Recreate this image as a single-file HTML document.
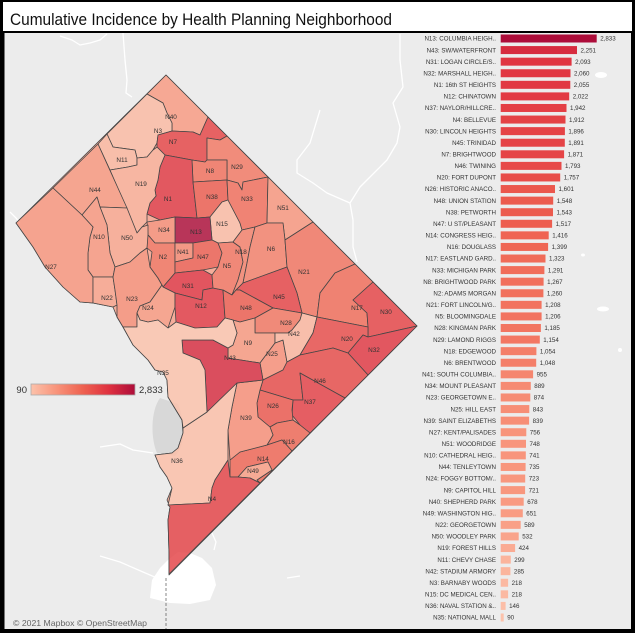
<!DOCTYPE html>
<html><head><meta charset="utf-8"><style>
html,body{margin:0;padding:0;background:#000;}
svg{display:block;}
.l{font-family:"Liberation Sans",Arial,sans-serif;font-size:6.2px;fill:#333;text-anchor:end;}
.v{font-family:"Liberation Sans",Arial,sans-serif;font-size:6.2px;fill:#333;}
.m{font-family:"Liberation Sans",Arial,sans-serif;font-size:6.4px;fill:#333;text-anchor:middle;}
.g{font-family:"Liberation Sans",Arial,sans-serif;font-size:9.5px;fill:#333;}
</style></head><body>
<svg width="635" height="633" viewBox="0 0 635 633" xmlns="http://www.w3.org/2000/svg">
<defs>
<linearGradient id="lg" x1="0" x2="1" y1="0" y2="0">
<stop offset="0" stop-color="#fcc2ab"/><stop offset="0.25" stop-color="#f8937a"/><stop offset="0.5" stop-color="#ee6150"/><stop offset="0.75" stop-color="#df3140"/><stop offset="1" stop-color="#ad0d3a"/>
</linearGradient>
</defs>
<rect width="635" height="633" fill="#000"/>
<rect x="3" y="2" width="629" height="29" fill="#fff"/>
<text x="10" y="25" font-family="Liberation Sans, Arial, sans-serif" font-size="17" fill="#111" textLength="382" lengthAdjust="spacingAndGlyphs">Cumulative Incidence by Health Planning Neighborhood</text>
<rect x="4.5" y="33" width="626.5" height="596" fill="#ececec"/>

<!-- background map details -->
<g fill="none" stroke="#fff" stroke-width="1.3" stroke-linejoin="round">
<path d="M400,34 L400,60 L403,87 L393,103 L400,127 L397,143 L387,160 L370,177 L360,187 L350,203 L353,220 L353,247 L357,262"/>
<path d="M320,110 L310,143 L297,160 L297,173 L313,183 L327,193 L350,203"/>
<path d="M123,33 L125,60 L127,80 L126,93 L132,97"/>
<path d="M60,36 L72,40 L80,45 L90,43 L100,40 L107,34"/>
<path d="M10,212 L16,218 L20,223"/>
<path d="M100,447 L120,444 L133,450 L153,453"/>
<path d="M100,556 L120,562 L143,572 L157,578"/>
<path d="M287,578 L300,576"/>
<path d="M212,533 L216,542 L214,550"/>
</g>
<path d="M150,598 L152,580 L160,568 L168,560 L178,552 L190,553 L202,558 L212,568 L216,585 L210,600 L190,604 L170,603 Z" fill="#fff"/>
<path d="M160,398 C150,412 151,440 157,453 L175,456 C185,446 186,424 178,404 Z" fill="#d8d8d8"/>
<path d="M166,578 L166,629" stroke="#555" stroke-width="0.7" stroke-dasharray="3,2" fill="none"/>
<g fill="#fff">
<ellipse cx="601" cy="75" rx="6" ry="3"/>
<ellipse cx="603" cy="309" rx="6" ry="2.5"/>
<ellipse cx="620" cy="350" rx="2" ry="2"/>
<ellipse cx="583" cy="255" rx="2" ry="1.5"/>
</g>

<!-- map -->
<g opacity="0.82" stroke="#222" stroke-width="0.8" stroke-linejoin="round">
<polygon fill="#f8a08a" points="166,75 417,326 169,575 169,553 168,520 170,507 167,500 172,488 167,477 160,467 155,455 172,453 178,448 183,433 182,420 168,397 167,380 163,372 155,370 148,360 133,345 123,327 117,317 113,307 93,303 80,302 63,287 45,267 33,247 16,223"/>
<polygon fill="#f99a81" points="166,75 208,117 200,135 193,132 172,131 172,123 167,113 163,103 147,94"/>
<polygon fill="#fbb9a2" points="147,94 163,103 167,113 172,123 172,131 158,135 157,143 153,150 147,157 137,158 135,150 113,147 107,134"/>
<polygon fill="#fbb49c" points="98,144 107,134 113,147 135,150 137,158 137,165 128,167 110,170"/>
<polygon fill="#e54446" points="157,143 158,135 172,131 193,132 200,135 208,117 227,136 220,140 207,138 207,160 205,162 192,160 165,155 157,147"/>
<polygon fill="#f37763" points="207,138 220,140 227,136 268,177 243,182 242,190 238,183 227,180 227,160 207,160"/>
<polygon fill="#f16f5c" points="192,160 205,162 207,160 227,160 227,180 193,182"/>
<polygon fill="#e13842" points="165,155 192,160 193,182 197,218 175,217 160,220 147,214 150,203 156,196 155,190 158,180 160,167"/>
<polygon fill="#faab93" points="110,170 128,167 137,165 137,158 147,157 153,150 157,147 165,155 160,167 158,180 155,190 156,196 150,203 147,214 147,222 142,227 137,233"/>
<polygon fill="#f8967d" points="98,144 127,208 100,207 97,197 82,215 53,188"/>
<polygon fill="#ec5b4e" points="193,182 227,180 228,200 222,202 210,217 197,218"/>
<polygon fill="#fbb9a2" points="210,217 222,202 228,200 240,223 242,230 233,242 218,243 212,240"/>
<polygon fill="#f16d5a" points="227,180 238,183 242,190 243,182 268,177 267,223 255,227 242,230 240,223 228,200"/>
<polygon fill="#f8957c" points="268,177 313,222 285,240 283,223 267,223"/>
<polygon fill="#ad0d3a" points="175,217 197,218 210,217 212,240 193,243 175,243"/>
<polygon fill="#f68b73" points="147,222 160,220 175,217 175,243 155,243 148,235"/>
<polygon fill="#f9a48b" points="100,207 127,208 137,233 142,227 148,225 148,235 150,237 147,248 140,253 130,262 115,267 110,253 107,225"/>
<polygon fill="#f8957c" points="82,215 97,197 100,207 107,225 110,253 115,267 113,277 93,277 88,270 88,253 90,237 93,227"/>
<polygon fill="#f8947b" points="53,188 82,215 93,227 90,237 88,253 88,270 93,277 93,303 80,302 63,287 45,267 33,247 16,223"/>
<polygon fill="#f9a087" points="93,277 113,277 115,290 117,305 113,307 93,303"/>
<polygon fill="#f68c74" points="115,267 130,262 140,253 147,248 150,267 158,278 162,285 150,302 140,306 137,313 137,327 123,327 117,317 117,305 115,290 113,277"/>
<polygon fill="#f1705c" points="148,235 155,243 175,243 175,262 175,273 163,287 158,278 150,267 152,252 147,248"/>
<polygon fill="#f5866f" points="175,243 193,243 193,258 175,262"/>
<polygon fill="#ed5d4f" points="175,262 193,258 193,243 212,240 218,243 222,253 218,267 203,270 175,273"/>
<polygon fill="#e03541" points="163,287 175,273 203,270 212,275 213,288 203,290 202,300 175,293"/>
<polygon fill="#f8977e" points="150,302 162,285 163,287 175,293 175,307 168,328 158,320 148,322 140,320 137,313 140,306"/>
<polygon fill="#e23a43" points="175,293 202,300 203,290 213,288 223,290 225,318 217,327 195,328 176,322 175,307"/>
<polygon fill="#f2735f" points="218,243 233,242 240,247 243,262 238,280 232,295 223,290 213,288 212,275 218,267 222,253"/>
<polygon fill="#f47f69" points="233,242 242,230 255,227 250,247 247,263 243,283 236,290 232,295 238,280 243,262 240,247"/>
<polygon fill="#f47f69" points="255,227 267,223 283,223 285,240 287,267 243,283 247,263 250,247"/>
<polygon fill="#f2735f" points="285,240 313,222 355,264 335,273 320,293 317,317 302,313 297,293 287,267"/>
<polygon fill="#e54346" points="243,283 287,267 297,293 302,313 273,308 240,290 236,290"/>
<polygon fill="#ec5b4e" points="223,290 232,295 236,290 240,290 273,308 255,318 240,322 225,318"/>
<polygon fill="#f27561" points="255,318 273,308 302,313 300,320 292,330 288,333 255,333"/>
<polygon fill="#f8977e" points="225,318 240,322 255,318 255,333 275,333 275,343 260,363 228,358 228,348 233,345 237,333 233,320"/>
<polygon fill="#f78e76" points="275,343 283,340 287,362 283,370 263,380 260,363"/>
<polygon fill="#fbb59d" points="275,333 288,333 292,330 300,320 302,313 317,317 313,333 300,355 287,362 283,340 275,343"/>
<polygon fill="#f06b58" points="335,273 355,264 373,282 353,300 367,313 368,327 317,317 320,293"/>
<polygon fill="#e54346" points="353,300 373,282 417,326 368,337 368,327 367,313"/>
<polygon fill="#e84c49" points="317,317 368,327 368,337 363,335 348,353 333,348 300,355 313,333"/>
<polygon fill="#e13742" points="363,335 368,337 417,326 368,375 348,353"/>
<polygon fill="#e74a48" points="263,380 283,370 287,362 300,355 333,348 348,353 368,375 345,398 300,373 303,400 293,400 260,390"/>
<polygon fill="#e43f45" points="300,373 345,398 310,433 300,425 292,415 293,400 303,400"/>
<polygon fill="#eb574d" points="260,390 293,400 292,410 293,420 277,423 270,427 258,417 257,403"/>
<polygon fill="#ef6654" points="270,427 277,423 293,420 300,425 310,433 292,451 282,440 267,445 273,435"/>
<polygon fill="#ef6453" points="230,460 240,452 267,445 282,440 292,451 260,483 257,480 272,470 268,462 247,467 238,477 230,477"/>
<polygon fill="#f99c83" points="238,477 247,467 268,462 272,470 257,480 260,483 250,478"/>
<polygon fill="#f78e76" points="237,383 263,380 260,390 257,403 258,417 270,427 273,435 267,445 240,452 230,460 228,430 232,407"/>
<polygon fill="#d72c3f" points="182,340 213,340 228,348 228,358 260,363 263,380 237,383 207,412 205,370 200,360 183,353"/>
<polygon fill="#fcbea7" points="183,428 207,412 237,383 232,407 228,430 228,460 215,480 212,488 210,503 168,505 172,488 167,477 160,467 155,455 172,453 178,448 183,433"/>
<polygon fill="#e44245" points="215,480 228,460 230,477 238,477 250,478 260,483 169,574 169,553 168,520 170,507 168,505 210,503 212,488"/>
<polygon fill="#fcc2ab" points="123,327 137,327 137,313 140,320 148,322 158,320 168,328 176,322 195,328 217,327 225,318 233,320 237,333 233,345 228,348 213,340 182,340 183,353 200,360 205,370 207,412 183,428 182,420 168,397 167,380 163,372 155,370 148,360 133,345"/>
</g>

<!-- map labels -->
<g class="mlab">
<text class="m" x="171" y="119">N40</text>
<text class="m" x="158" y="133">N3</text>
<text class="m" x="173" y="144">N7</text>
<text class="m" x="122" y="162">N11</text>
<text class="m" x="141" y="186">N19</text>
<text class="m" x="95" y="192">N44</text>
<text class="m" x="168" y="201">N1</text>
<text class="m" x="210" y="173">N8</text>
<text class="m" x="237" y="169">N29</text>
<text class="m" x="212" y="199">N38</text>
<text class="m" x="247" y="201">N33</text>
<text class="m" x="283" y="210">N51</text>
<text class="m" x="196" y="234">N13</text>
<text class="m" x="222" y="226">N15</text>
<text class="m" x="164" y="232">N34</text>
<text class="m" x="99" y="239">N10</text>
<text class="m" x="127" y="240">N50</text>
<text class="m" x="271" y="251">N6</text>
<text class="m" x="163" y="259">N2</text>
<text class="m" x="183" y="254">N41</text>
<text class="m" x="203" y="259">N47</text>
<text class="m" x="241" y="254">N18</text>
<text class="m" x="227" y="268">N5</text>
<text class="m" x="304" y="274">N21</text>
<text class="m" x="51" y="269">N27</text>
<text class="m" x="188" y="288">N31</text>
<text class="m" x="201" y="308">N12</text>
<text class="m" x="279" y="299">N45</text>
<text class="m" x="107" y="300">N22</text>
<text class="m" x="132" y="301">N23</text>
<text class="m" x="148" y="310">N24</text>
<text class="m" x="246" y="310">N48</text>
<text class="m" x="286" y="325">N28</text>
<text class="m" x="294" y="336">N42</text>
<text class="m" x="357" y="310">N17</text>
<text class="m" x="386" y="314">N30</text>
<text class="m" x="347" y="341">N20</text>
<text class="m" x="248" y="345">N9</text>
<text class="m" x="272" y="356">N25</text>
<text class="m" x="374" y="352">N32</text>
<text class="m" x="230" y="360">N43</text>
<text class="m" x="163" y="375">N35</text>
<text class="m" x="320" y="383">N46</text>
<text class="m" x="310" y="404">N37</text>
<text class="m" x="273" y="408">N26</text>
<text class="m" x="246" y="420">N39</text>
<text class="m" x="289" y="444">N16</text>
<text class="m" x="263" y="461">N14</text>
<text class="m" x="253" y="473">N49</text>
<text class="m" x="177" y="463">N36</text>
<text class="m" x="212" y="501">N4</text>
</g>

<!-- legend -->
<rect x="31" y="384" width="104" height="11" fill="url(#lg)" stroke="#aaa" stroke-width="0.8"/>
<text class="g" x="27" y="393" text-anchor="end">90</text>
<text class="g" x="139" y="393">2,833</text>

<text x="13" y="626" font-family="Liberation Sans, Arial, sans-serif" font-size="8.5" fill="#666" textLength="134" lengthAdjust="spacingAndGlyphs">© 2021 Mapbox © OpenStreetMap</text>

<!-- bars -->
<g>
<g transform="translate(0,38.5)"><text class="l" x="496" y="2.2">N13: COLUMBIA HEIGH..</text><rect x="500.7" y="-4" width="96" height="8" fill="#ad0d3a"/><text class="v" x="600.2" y="2.2">2,833</text></g>
<g transform="translate(0,50.08)"><text class="l" x="496" y="2.2">N43: SW/WATERFRONT</text><rect x="500.7" y="-4" width="76.3" height="8" fill="#d72c3f"/><text class="v" x="580.5" y="2.2">2,251</text></g>
<g transform="translate(0,61.66)"><text class="l" x="496" y="2.2">N31: LOGAN CIRCLE/S..</text><rect x="500.7" y="-4" width="70.9" height="8" fill="#e03541"/><text class="v" x="575.1" y="2.2">2,093</text></g>
<g transform="translate(0,73.24)"><text class="l" x="496" y="2.2">N32: MARSHALL HEIGH..</text><rect x="500.7" y="-4" width="69.8" height="8" fill="#e13742"/><text class="v" x="574" y="2.2">2,060</text></g>
<g transform="translate(0,84.82)"><text class="l" x="496" y="2.2">N1: 16th ST HEIGHTS</text><rect x="500.7" y="-4" width="69.6" height="8" fill="#e13842"/><text class="v" x="573.8" y="2.2">2,055</text></g>
<g transform="translate(0,96.4)"><text class="l" x="496" y="2.2">N12: CHINATOWN</text><rect x="500.7" y="-4" width="68.5" height="8" fill="#e23a43"/><text class="v" x="572.7" y="2.2">2,022</text></g>
<g transform="translate(0,107.98)"><text class="l" x="496" y="2.2">N37: NAYLOR/HILLCRE..</text><rect x="500.7" y="-4" width="65.8" height="8" fill="#e43f45"/><text class="v" x="570" y="2.2">1,942</text></g>
<g transform="translate(0,119.56)"><text class="l" x="496" y="2.2">N4: BELLEVUE</text><rect x="500.7" y="-4" width="64.8" height="8" fill="#e44245"/><text class="v" x="569" y="2.2">1,912</text></g>
<g transform="translate(0,131.14)"><text class="l" x="496" y="2.2">N30: LINCOLN HEIGHTS</text><rect x="500.7" y="-4" width="64.2" height="8" fill="#e54346"/><text class="v" x="568.4" y="2.2">1,896</text></g>
<g transform="translate(0,142.72)"><text class="l" x="496" y="2.2">N45: TRINIDAD</text><rect x="500.7" y="-4" width="64.1" height="8" fill="#e54346"/><text class="v" x="568.3" y="2.2">1,891</text></g>
<g transform="translate(0,154.3)"><text class="l" x="496" y="2.2">N7: BRIGHTWOOD</text><rect x="500.7" y="-4" width="63.4" height="8" fill="#e54446"/><text class="v" x="567.6" y="2.2">1,871</text></g>
<g transform="translate(0,165.88)"><text class="l" x="496" y="2.2">N46: TWINING</text><rect x="500.7" y="-4" width="60.8" height="8" fill="#e74a48"/><text class="v" x="565" y="2.2">1,793</text></g>
<g transform="translate(0,177.46)"><text class="l" x="496" y="2.2">N20: FORT DUPONT</text><rect x="500.7" y="-4" width="59.5" height="8" fill="#e84c49"/><text class="v" x="563.7" y="2.2">1,757</text></g>
<g transform="translate(0,189.04)"><text class="l" x="496" y="2.2">N26: HISTORIC ANACO..</text><rect x="500.7" y="-4" width="54.3" height="8" fill="#eb574d"/><text class="v" x="558.5" y="2.2">1,601</text></g>
<g transform="translate(0,200.62)"><text class="l" x="496" y="2.2">N48: UNION STATION</text><rect x="500.7" y="-4" width="52.5" height="8" fill="#ec5b4e"/><text class="v" x="556.7" y="2.2">1,548</text></g>
<g transform="translate(0,212.2)"><text class="l" x="496" y="2.2">N38: PETWORTH</text><rect x="500.7" y="-4" width="52.3" height="8" fill="#ec5b4e"/><text class="v" x="556.5" y="2.2">1,543</text></g>
<g transform="translate(0,223.78)"><text class="l" x="496" y="2.2">N47: U ST/PLEASANT</text><rect x="500.7" y="-4" width="51.4" height="8" fill="#ed5d4f"/><text class="v" x="555.6" y="2.2">1,517</text></g>
<g transform="translate(0,235.36)"><text class="l" x="496" y="2.2">N14: CONGRESS HEIG..</text><rect x="500.7" y="-4" width="48" height="8" fill="#ef6453"/><text class="v" x="552.2" y="2.2">1,416</text></g>
<g transform="translate(0,246.94)"><text class="l" x="496" y="2.2">N16: DOUGLASS</text><rect x="500.7" y="-4" width="47.4" height="8" fill="#ef6654"/><text class="v" x="551.6" y="2.2">1,399</text></g>
<g transform="translate(0,258.52)"><text class="l" x="496" y="2.2">N17: EASTLAND GARD..</text><rect x="500.7" y="-4" width="44.8" height="8" fill="#f06b58"/><text class="v" x="549" y="2.2">1,323</text></g>
<g transform="translate(0,270.1)"><text class="l" x="496" y="2.2">N33: MICHIGAN PARK</text><rect x="500.7" y="-4" width="43.7" height="8" fill="#f16d5a"/><text class="v" x="547.9" y="2.2">1,291</text></g>
<g transform="translate(0,281.68)"><text class="l" x="496" y="2.2">N8: BRIGHTWOOD PARK</text><rect x="500.7" y="-4" width="42.9" height="8" fill="#f16f5c"/><text class="v" x="547.1" y="2.2">1,267</text></g>
<g transform="translate(0,293.26)"><text class="l" x="496" y="2.2">N2: ADAMS MORGAN</text><rect x="500.7" y="-4" width="42.7" height="8" fill="#f1705c"/><text class="v" x="546.9" y="2.2">1,260</text></g>
<g transform="translate(0,304.84)"><text class="l" x="496" y="2.2">N21: FORT LINCOLN/G..</text><rect x="500.7" y="-4" width="40.9" height="8" fill="#f2735f"/><text class="v" x="545.1" y="2.2">1,208</text></g>
<g transform="translate(0,316.42)"><text class="l" x="496" y="2.2">N5: BLOOMINGDALE</text><rect x="500.7" y="-4" width="40.9" height="8" fill="#f2735f"/><text class="v" x="545.1" y="2.2">1,206</text></g>
<g transform="translate(0,328)"><text class="l" x="496" y="2.2">N28: KINGMAN PARK</text><rect x="500.7" y="-4" width="40.2" height="8" fill="#f27561"/><text class="v" x="544.4" y="2.2">1,185</text></g>
<g transform="translate(0,339.58)"><text class="l" x="496" y="2.2">N29: LAMOND RIGGS</text><rect x="500.7" y="-4" width="39.1" height="8" fill="#f37763"/><text class="v" x="543.3" y="2.2">1,154</text></g>
<g transform="translate(0,351.16)"><text class="l" x="496" y="2.2">N18: EDGEWOOD</text><rect x="500.7" y="-4" width="35.7" height="8" fill="#f47f69"/><text class="v" x="539.9" y="2.2">1,054</text></g>
<g transform="translate(0,362.74)"><text class="l" x="496" y="2.2">N6: BRENTWOOD</text><rect x="500.7" y="-4" width="35.5" height="8" fill="#f47f69"/><text class="v" x="539.7" y="2.2">1,048</text></g>
<g transform="translate(0,374.32)"><text class="l" x="496" y="2.2">N41: SOUTH COLUMBIA..</text><rect x="500.7" y="-4" width="32.4" height="8" fill="#f5866f"/><text class="v" x="536.6" y="2.2">955</text></g>
<g transform="translate(0,385.9)"><text class="l" x="496" y="2.2">N34: MOUNT PLEASANT</text><rect x="500.7" y="-4" width="30.1" height="8" fill="#f68b73"/><text class="v" x="534.3" y="2.2">889</text></g>
<g transform="translate(0,397.48)"><text class="l" x="496" y="2.2">N23: GEORGETOWN E..</text><rect x="500.7" y="-4" width="29.6" height="8" fill="#f68c74"/><text class="v" x="533.8" y="2.2">874</text></g>
<g transform="translate(0,409.06)"><text class="l" x="496" y="2.2">N25: HILL EAST</text><rect x="500.7" y="-4" width="28.6" height="8" fill="#f78e76"/><text class="v" x="532.8" y="2.2">843</text></g>
<g transform="translate(0,420.64)"><text class="l" x="496" y="2.2">N39: SAINT ELIZABETHS</text><rect x="500.7" y="-4" width="28.4" height="8" fill="#f78e76"/><text class="v" x="532.6" y="2.2">839</text></g>
<g transform="translate(0,432.22)"><text class="l" x="496" y="2.2">N27: KENT/PALISADES</text><rect x="500.7" y="-4" width="25.6" height="8" fill="#f8947b"/><text class="v" x="529.8" y="2.2">756</text></g>
<g transform="translate(0,443.8)"><text class="l" x="496" y="2.2">N51: WOODRIDGE</text><rect x="500.7" y="-4" width="25.3" height="8" fill="#f8957c"/><text class="v" x="529.5" y="2.2">748</text></g>
<g transform="translate(0,455.38)"><text class="l" x="496" y="2.2">N10: CATHEDRAL HEIG..</text><rect x="500.7" y="-4" width="25.1" height="8" fill="#f8957c"/><text class="v" x="529.3" y="2.2">741</text></g>
<g transform="translate(0,466.96)"><text class="l" x="496" y="2.2">N44: TENLEYTOWN</text><rect x="500.7" y="-4" width="24.9" height="8" fill="#f8967d"/><text class="v" x="529.1" y="2.2">735</text></g>
<g transform="translate(0,478.54)"><text class="l" x="496" y="2.2">N24: FOGGY BOTTOM/..</text><rect x="500.7" y="-4" width="24.5" height="8" fill="#f8977e"/><text class="v" x="528.7" y="2.2">723</text></g>
<g transform="translate(0,490.12)"><text class="l" x="496" y="2.2">N9: CAPITOL HILL</text><rect x="500.7" y="-4" width="24.4" height="8" fill="#f8977e"/><text class="v" x="528.6" y="2.2">721</text></g>
<g transform="translate(0,501.7)"><text class="l" x="496" y="2.2">N40: SHEPHERD PARK</text><rect x="500.7" y="-4" width="23" height="8" fill="#f99a81"/><text class="v" x="527.2" y="2.2">678</text></g>
<g transform="translate(0,513.28)"><text class="l" x="496" y="2.2">N49: WASHINGTON HIG..</text><rect x="500.7" y="-4" width="22.1" height="8" fill="#f99c83"/><text class="v" x="526.3" y="2.2">651</text></g>
<g transform="translate(0,524.86)"><text class="l" x="496" y="2.2">N22: GEORGETOWN</text><rect x="500.7" y="-4" width="20" height="8" fill="#f9a087"/><text class="v" x="524.2" y="2.2">589</text></g>
<g transform="translate(0,536.44)"><text class="l" x="496" y="2.2">N50: WOODLEY PARK</text><rect x="500.7" y="-4" width="18" height="8" fill="#f9a48b"/><text class="v" x="522.2" y="2.2">532</text></g>
<g transform="translate(0,548.02)"><text class="l" x="496" y="2.2">N19: FOREST HILLS</text><rect x="500.7" y="-4" width="14.4" height="8" fill="#faab93"/><text class="v" x="518.6" y="2.2">424</text></g>
<g transform="translate(0,559.6)"><text class="l" x="496" y="2.2">N11: CHEVY CHASE</text><rect x="500.7" y="-4" width="10.1" height="8" fill="#fbb49c"/><text class="v" x="514.3" y="2.2">299</text></g>
<g transform="translate(0,571.18)"><text class="l" x="496" y="2.2">N42: STADIUM ARMORY</text><rect x="500.7" y="-4" width="9.7" height="8" fill="#fbb59d"/><text class="v" x="513.9" y="2.2">285</text></g>
<g transform="translate(0,582.76)"><text class="l" x="496" y="2.2">N3: BARNABY WOODS</text><rect x="500.7" y="-4" width="7.4" height="8" fill="#fbb9a2"/><text class="v" x="511.6" y="2.2">218</text></g>
<g transform="translate(0,594.34)"><text class="l" x="496" y="2.2">N15: DC MEDICAL CEN..</text><rect x="500.7" y="-4" width="7.4" height="8" fill="#fbb9a2"/><text class="v" x="511.6" y="2.2">218</text></g>
<g transform="translate(0,605.92)"><text class="l" x="496" y="2.2">N36: NAVAL STATION &amp;..</text><rect x="500.7" y="-4" width="4.9" height="8" fill="#fcbea7"/><text class="v" x="509.1" y="2.2">146</text></g>
<g transform="translate(0,617.5)"><text class="l" x="496" y="2.2">N35: NATIONAL MALL</text><rect x="500.7" y="-4" width="3" height="8" fill="#fcc2ab"/><text class="v" x="507.2" y="2.2">90</text></g>
</g>
</svg>
</body></html>
